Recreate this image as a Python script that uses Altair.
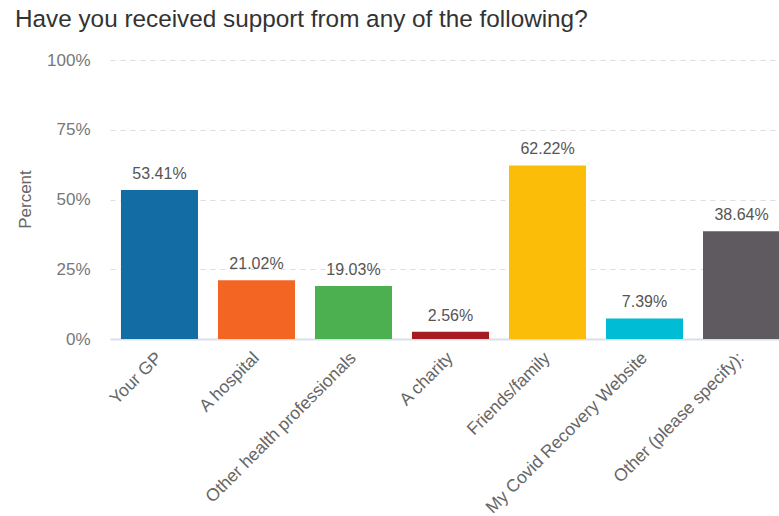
import altair as alt
import pandas as pd

categories = ["Your GP", "A hospital", "Other health professionals", "A charity",
              "Friends/family", "My Covid Recovery Website", "Other (please specify):"]
values = [53.41, 21.02, 19.03, 2.56, 62.22, 7.39, 38.64]
colors = ["#146ca4", "#f26522", "#4caf50", "#a51d23", "#fbbd08", "#00bcd4", "#5e5a60"]

df = pd.DataFrame({"cat": categories, "val": values,
                   "lbl": [f"{v:.2f}%" for v in values]})

FONT = "Liberation Sans"

x = alt.X("cat:N", sort=categories, title=None,
          scale=alt.Scale(range=[0, 681], paddingInner=0.206, paddingOuter=0.113),
          axis=alt.Axis(labelAngle=-45, labelAlign="right", labelBaseline="middle",
                        labelFontSize=17.5, labelColor="#666", labelFont=FONT,
                        labelPadding=16, ticks=False, domainColor="#d9dfe7",
                        domainWidth=2, labelLimit=400))
y = alt.Y("val:Q", title="Percent",
          scale=alt.Scale(domain=[0, 100], nice=False),
          axis=alt.Axis(values=[0, 25, 50, 75, 100], labelExpr="datum.value + '%'",
                        labelFontSize=17, labelColor="#777", labelFont=FONT,
                        labelPadding=20, ticks=False, domain=False,
                        gridDash=[5, 5], gridColor="#dddddd",
                        titleFontSize=17, titleColor="#666", titleFont=FONT,
                        titleFontWeight="normal", titleX=-76, titleY=139,
                        titleAngle=-90, titleAlign="center", titleBaseline="bottom"))

bars = alt.Chart(df).mark_bar(clip=True).encode(
    x=x, y=y,
    color=alt.Color("cat:N", sort=categories,
                    scale=alt.Scale(domain=categories, range=colors), legend=None))

text = alt.Chart(df).mark_text(dy=-16, fontSize=16, color="#555", font=FONT).encode(
    x=alt.X("cat:N", sort=categories), y="val:Q", text="lbl:N")

chart = (bars + text).properties(
    width=669, height=279,
    autosize=alt.AutoSizeParams(type="none"),
    padding={"left": 110, "top": 60, "right": 0, "bottom": 177},
    title=alt.TitleParams("Have you received support from any of the following?",
                          anchor="start", frame="group", dx=-95, offset=19,
                          fontSize=24.3, font=FONT, fontWeight="normal", color="#333"),
).configure_view(stroke=None)

chart.save("out.html", embed_options={"renderer": "svg", "actions": False})
